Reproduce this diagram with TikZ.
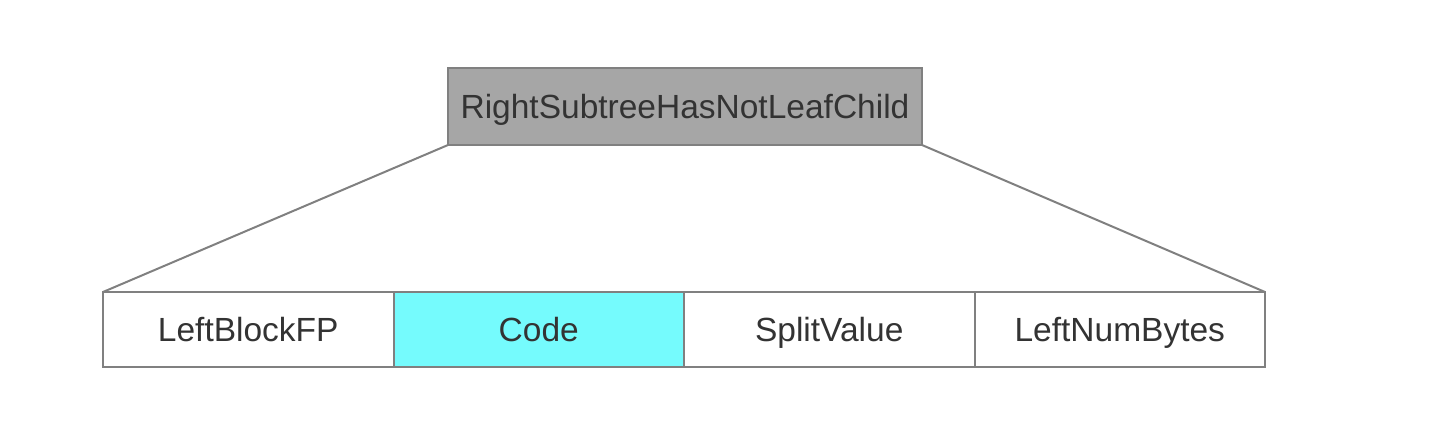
\documentclass[tikz,border=0pt]{standalone}
\usepackage{fontspec}
\setmainfont{Liberation Sans}
\usetikzlibrary{positioning}
\definecolor{edgegray}{HTML}{808080}
\definecolor{headgray}{HTML}{A6A6A6}
\definecolor{codecyan}{HTML}{75FBFD}
\definecolor{textgray}{HTML}{333333}
\tikzset{
    field/.style={draw=edgegray, line width=2pt, fill=white, inner sep=0pt, outer sep=0pt,
        minimum width=290.5pt, minimum height=75pt, text=textgray,
        text height=24pt, text depth=0pt,
        font=\fontsize{33.5}{40}\selectfont},
    head/.style={field, fill=headgray, minimum width=474pt, minimum height=77pt},
    link/.style={draw=edgegray, line width=2pt}
}

\begin{document}
\begin{tikzpicture}[x=1pt, y=-1pt]
    \useasboundingbox (0,0) rectangle (1440,426);
    \node[head] (top) at (685,106.5) {RightSubtreeHasNotLeafChild};
    \node[field, anchor=west] (f1) at (103,329.5) {LeftBlockFP};
    \node[field, fill=codecyan, right=0pt of f1] (f2) {Code};
    \node[field, right=0pt of f2] (f3) {SplitValue};
    \node[field, right=0pt of f3] (f4) {LeftNumBytes};
    \draw[link] (top.south west) -- (f1.north west);
    \draw[link] (top.south east) -- (f4.north east);
\end{tikzpicture}
\end{document}
